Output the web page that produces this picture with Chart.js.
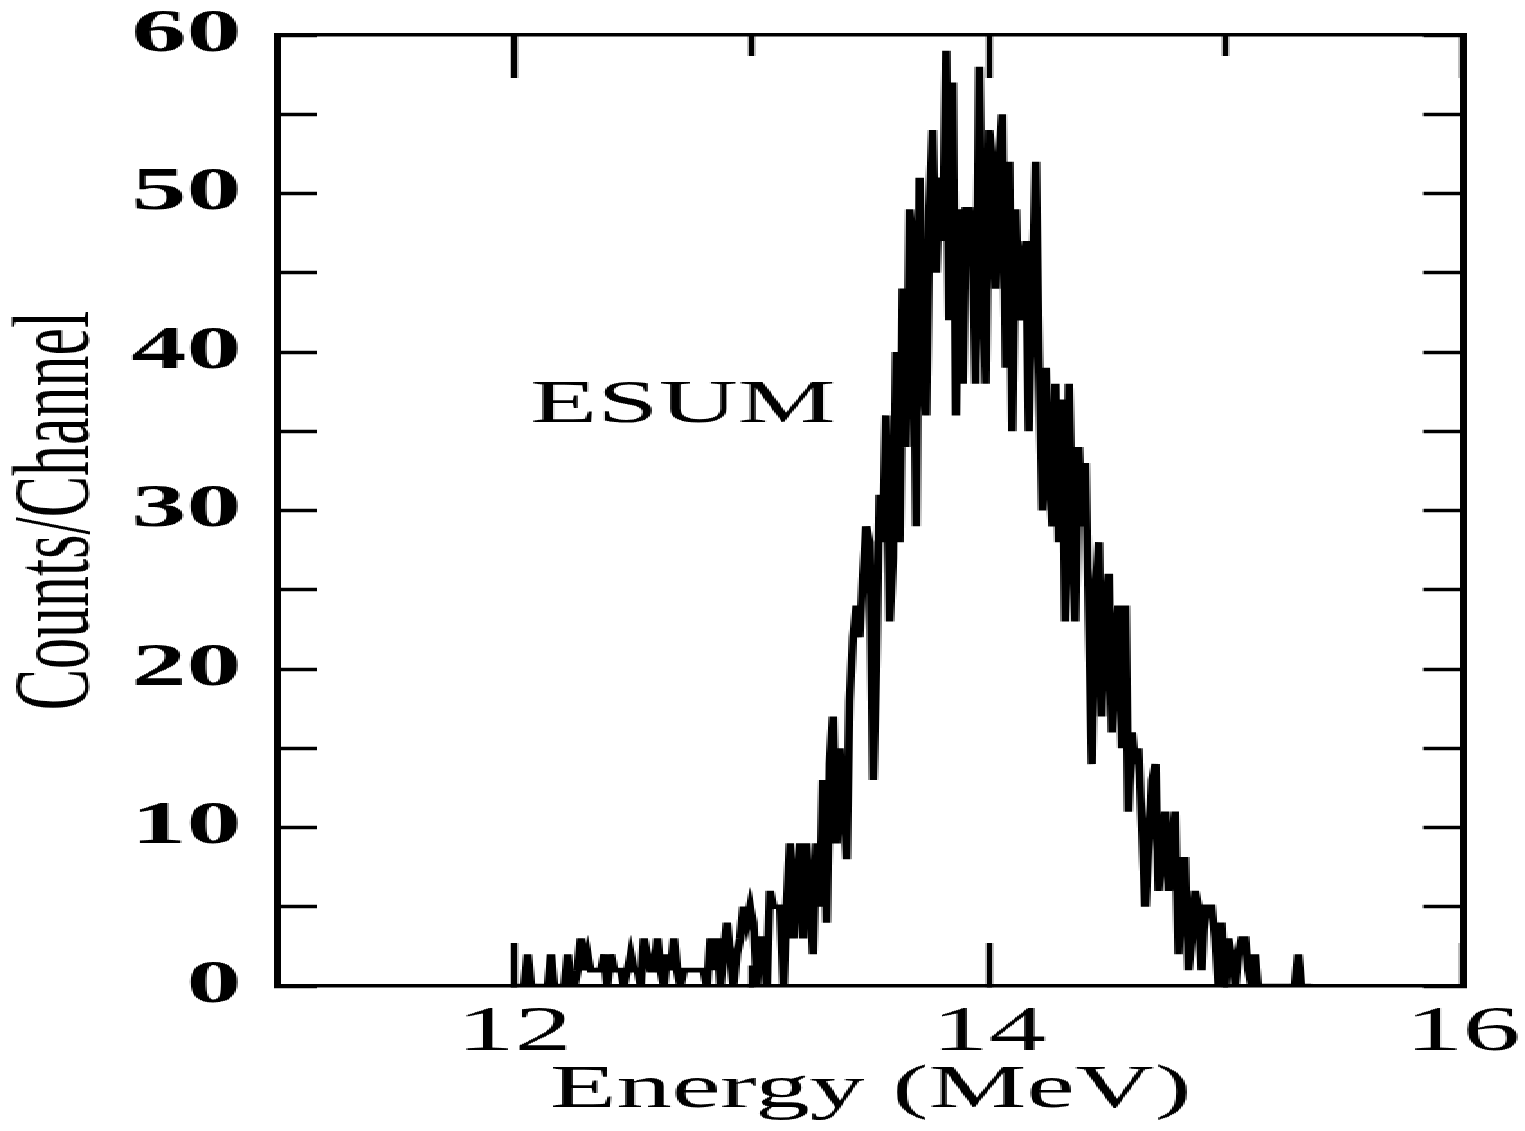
<!DOCTYPE html>
<html>
<head>
<meta charset="utf-8">
<title>ESUM spectrum</title>
<script src="https://cdn.jsdelivr.net/npm/chart.js@4.4.1/dist/chart.umd.min.js"></script>
<style>
  html, body { margin: 0; padding: 0; background: #fff; }
  #esum-chart { image-rendering: pixelated; }
</style>
</head>
<body>
<!-- the original figure is stretched ~1.8x horizontally: draw narrow, show wide -->
<canvas id="esum-chart" width="847" height="1131" style="width:1525px;height:1131px"></canvas>
<script>
// energy calibration of the channels
const firstChannelMeV = 12.0;
const channelWidthMeV = 0.014;

// counts per channel
const countsPerChannel = [
    0, 0, 0, 0, 2, 0, 0, 0, 0, 0,
    0, 2, 0, 0, 0, 0, 2, 0, 0, 1,
    3, 1, 2, 1, 1, 1, 1, 2, 0, 2,
    1, 1, 1, 0, 1, 2, 1, 1, 0, 3,
    2, 1, 1, 3, 1, 0, 2, 1, 3, 1,
    0, 1, 1, 1, 1, 1, 1, 1, 0, 3,
    1, 3, 0, 2, 4, 2, 0, 2, 3, 5,
    4, 5, 4, 0, 3, 3, 0, 6, 5, 5,
    5, 0, 5, 9, 3, 6, 9, 3, 9, 6,
    2, 9, 5, 13, 4, 14, 17, 9, 15, 12,
    8, 18, 22, 24, 22, 26, 29, 28, 13, 20,
    31, 28, 36, 23, 27, 40, 28, 44, 34, 49,
    47, 29, 51, 40, 36, 49, 54, 45, 51, 47,
    59, 42, 57, 36, 49, 38, 49, 49, 47, 38,
    58, 46, 38, 54, 52, 44, 52, 55, 39, 52,
    35, 49, 42, 45, 47, 35, 44, 52, 40, 30,
    39, 33, 29, 38, 28, 37, 23, 38, 30, 23,
    34, 29, 33, 23, 14, 25, 28, 17, 24, 26,
    16, 22, 24, 15, 24, 11, 16, 14, 15, 10,
    5, 9, 13, 14, 6, 9, 11, 6, 9, 11,
    2, 8, 8, 1, 3, 6, 5, 1, 5, 5,
    5, 3, 0, 4, 0, 3, 2, 0, 2, 3,
    3, 1, 0, 2, 0, 0, 0, 0, 0, 0,
    0, 0, 0, 0, 0, 0, 2, 0, 0, 0, 0
];

const xRange = [11, 16];
const yRange = [0, 60];
const xTickValues = [12, 13, 14, 15, 16];
const xTickLabels = [12, 14, 16];
const yTickValues = [0, 5, 10, 15, 20, 25, 30, 35, 40, 45, 50, 55, 60];
const yTickLabels = [0, 10, 20, 30, 40, 50, 60];

const spectrumLabel = 'ESUM';
const spectrumLabelAt = { x: 12.71, y: 35.6 };

const serif = '"Liberation Serif", "Times New Roman", serif';
const ink = '#000';

const spectrum = countsPerChannel.map((c, i) => ({
    x: firstChannelMeV + i * channelWidthMeV,
    y: c
}));

function isMajorX(ctx) {
    return ctx.tick && xTickLabels.includes(ctx.tick.value);
}

// ESUM 글자
const spectrumLabelPlugin = {
    id: 'spectrumLabel',
    afterDatasetsDraw(chart) {
        const { ctx, scales } = chart;
        ctx.save();
        ctx.font = '61px ' + serif;
        ctx.fillStyle = ink;
        ctx.textAlign = 'center';
        ctx.textBaseline = 'alphabetic';
        ctx.fillText(spectrumLabel,
            scales.x.getPixelForValue(spectrumLabelAt.x),
            scales.y.getPixelForValue(spectrumLabelAt.y));
        ctx.restore();
    }
};

function xAxis(position, height, withLabels) {
    return {
        type: 'linear',
        position: position,
        min: xRange[0],
        max: xRange[1],
        afterBuildTicks: s => { s.ticks = xTickValues.map(v => ({ value: v })); },
        afterFit: s => { s.height = height; s.paddingLeft = 0; s.paddingRight = 0; },
        border: { display: true, color: ink, width: 3.5 },
        grid: {
            drawOnChartArea: false,
            drawTicks: true,
            tickLength: -43,
            tickWidth: 3.5,
            tickColor: ink,
            // minor ticks are half length
            tickBorderDash: ctx => isMajorX(ctx) ? [] : (position === 'top' ? [0, 22, 21, 100] : [22, 100])
        },
        ticks: {
            display: withLabels,
            padding: 58,
            color: ink,
            autoSkip: false,
            maxRotation: 0,
            minRotation: 0,
            font: { family: serif, size: 64, lineHeight: 1 },
            callback: v => xTickLabels.includes(v) ? String(v) : ''
        },
        title: {
            display: withLabels,
            text: 'Energy (MeV)',
            color: ink,
            font: { family: serif, size: 61, lineHeight: 1 },
            padding: { top: 0, bottom: 10 }
        }
    };
}

function yAxis(position, width, withLabels) {
    return {
        type: 'linear',
        position: position,
        min: yRange[0],
        max: yRange[1],
        afterBuildTicks: s => { s.ticks = yTickValues.map(v => ({ value: v })); },
        afterFit: s => { s.width = width; s.paddingTop = 0; s.paddingBottom = 0; },
        border: { display: true, color: ink, width: 4 },
        grid: {
            drawOnChartArea: false,
            drawTicks: true,
            tickLength: -22,
            tickWidth: 3.5,
            tickColor: ink
        },
        ticks: {
            display: withLabels,
            padding: 42,
            color: ink,
            autoSkip: false,
            font: { family: serif, size: 61, weight: 'bold', lineHeight: 1 },
            callback: v => yTickLabels.includes(v) ? String(v) : ''
        },
        title: {
            display: withLabels,
            text: 'Counts/Channel',
            color: ink,
            font: { family: serif, size: 62, lineHeight: 1 },
            padding: { top: 2, bottom: 0 }
        }
    };
}

new Chart(document.getElementById('esum-chart'), {
    type: 'line',
    data: {
        datasets: [{
            data: spectrum,
            borderColor: ink,
            borderWidth: 4.6,
            pointRadius: 0,
            fill: false,
            tension: 0
        }]
    },
    options: {
        responsive: false,
        animation: false,
        events: [],
        layout: { padding: 0 },
        plugins: {
            legend: { display: false },
            tooltip: { enabled: false }
        },
        scales: {
            x: xAxis('bottom', 145, true),
            x2: xAxis('top', 35, false),
            y: yAxis('left', 154, true),
            y2: yAxis('right', 34.4, false)
        }
    },
    plugins: [spectrumLabelPlugin]
});
</script>
</body>
</html>
